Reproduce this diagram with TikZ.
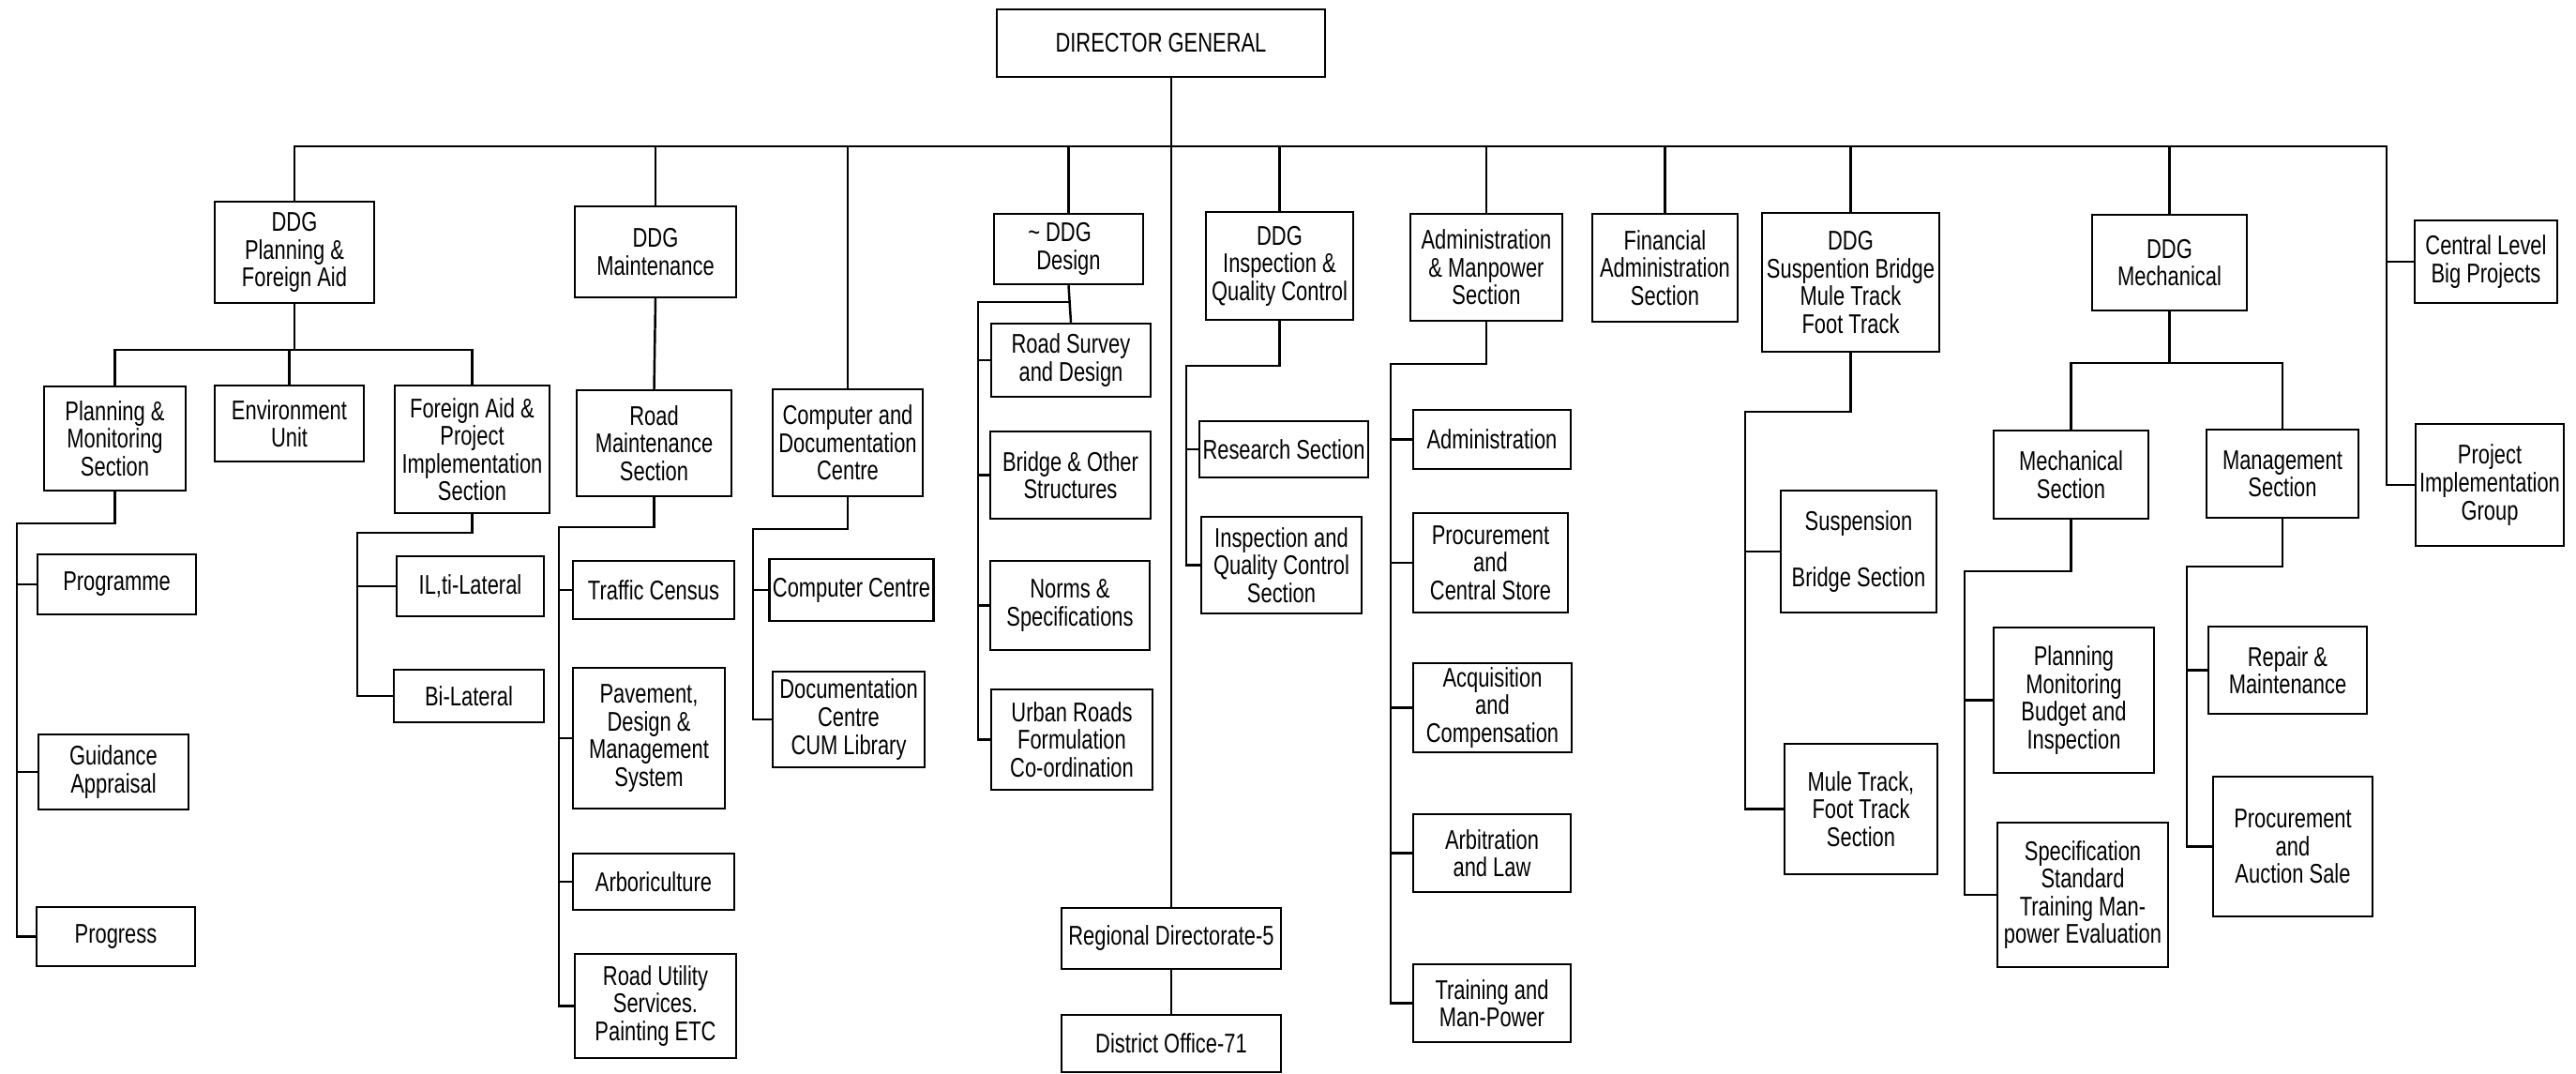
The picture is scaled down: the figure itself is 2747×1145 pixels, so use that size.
\documentclass[tikz,border=0pt]{standalone}
\usepackage{fontspec}
\setmainfont[FakeStretch=0.76]{Liberation Sans}
\newfontfamily\orgfam[FakeStretch=0.76]{Liberation Sans}
\newcommand\orgfont{\orgfam\fontsize{8.2}{8.4}\selectfont}
\tikzset{
  orgbox/.style={draw, line width=0.7pt, align=center, inner sep=1pt, font=\orgfont},
  link/.style={line width=0.7pt}
}
\newcommand\mkbox[6]{\node[orgbox, minimum width={(#4-#2)*0.01cm}, minimum height={(#5-#3)*0.01cm}] (#1) at ({(#2+#4)/2},{(#3+#5)/2}) {#6};}
\begin{document}
\begin{tikzpicture}[x=0.01cm, y=-0.01cm]
\useasboundingbox[fill=white] (0,0) rectangle (2747,1145);
% top level
\mkbox{dg}{1063}{10}{1413}{82}{DIRECTOR GENERAL}
\mkbox{ddgpf}{229}{215}{399}{323}{DDG\\Planning \&\\Foreign Aid}
\mkbox{ddgm}{613}{220}{785}{317}{DDG\\Maintenance}
\mkbox{cdc}{824}{415}{984}{529}{Computer and\\Documentation\\Centre}
\mkbox{ddgd}{1060}{228}{1219}{303}{\llap{\textasciitilde\ }DDG\\Design}
\mkbox{ddgi}{1286}{226}{1443}{341}{DDG\\Inspection \&\\Quality Control}
\mkbox{adm}{1504}{228}{1666}{342}{Administration\\\& Manpower\\Section}
\mkbox{fin}{1698}{228}{1853}{343}{Financial\\Administration\\Section}
\mkbox{ddgs}{1879}{227}{2068}{375}{DDG\\Suspention Bridge\\Mule Track\\Foot Track}
\mkbox{ddgmech}{2231}{229}{2396}{331}{DDG\\Mechanical}
\mkbox{clbp}{2575}{235}{2727}{323}{Central Level\\Big Projects}
% planning branch
\mkbox{pms}{47}{412}{198}{523}{Planning \&\\Monitoring\\Section}
\mkbox{env}{229}{411}{388}{492}{Environment\\Unit}
\mkbox{fapi}{421}{411}{586}{547}{Foreign Aid \&\\Project\\Implementation\\Section}
\mkbox{prog}{40}{591}{209}{655}{Programme}
\mkbox{guid}{41}{783}{201}{863}{Guidance\\Appraisal}
\mkbox{progr}{39}{967}{208}{1030}{Progress}
\mkbox{ilt}{423}{593}{580}{657}{IL,ti-Lateral}
\mkbox{bil}{420}{714}{580}{770}{Bi-Lateral}
% maintenance branch
\mkbox{rms}{615}{416}{780}{529}{Road\\Maintenance\\Section}
\mkbox{tc}{611}{598}{783}{660}{Traffic Census}
\mkbox{pav}{611}{712}{773}{862}{Pavement,\\Design \&\\Management\\System}
\mkbox{arb}{611}{910}{783}{970}{Arboriculture}
\mkbox{rus}{613}{1017}{785}{1128}{Road Utility\\Services.\\Painting ETC}
% computer
\mkbox{cc}{821}{596}{995}{662}{Computer Centre}
\mkbox{doc}{824}{716}{986}{818}{Documentation\\Centre\\CUM Library}
% design
\mkbox{rsd}{1057}{345}{1227}{423}{Road Survey\\and Design}
\mkbox{bos}{1056}{460}{1227}{553}{Bridge \& Other\\Structures}
\mkbox{nos}{1056}{598}{1226}{693}{Norms \&\\Specifications}
\mkbox{urf}{1057}{735}{1229}{842}{Urban Roads\\Formulation\\Co-ordination}
% inspection
\mkbox{res}{1281}{449}{1457}{509}{Research Section}
\mkbox{iqc}{1281}{551}{1452}{654}{Inspection and\\Quality Control\\Section}
% administration
\mkbox{admn}{1507}{437}{1675}{500}{Administration}
\mkbox{pcs}{1507}{547}{1672}{653}{Procurement\\and\\Central Store}
\mkbox{acq}{1507}{707}{1676}{802}{Acquisition\\and\\Compensation}
\mkbox{arl}{1507}{868}{1675}{951}{Arbitration\\and Law}
\mkbox{tmp}{1507}{1028}{1675}{1111}{Training and\\Man-Power}
% regional
\mkbox{rd}{1132}{968}{1366}{1033}{Regional Directorate-5}
\mkbox{dof}{1132}{1082}{1366}{1143}{District Office-71}
% suspension
\mkbox{sbs}{1899}{523}{2065}{653}{Suspension\\[8.4pt]Bridge Section}
\mkbox{mtf}{1903}{793}{2066}{932}{Mule Track,\\Foot Track\\Section}
% mechanical
\mkbox{mecs}{2126}{459}{2291}{553}{Mechanical\\Section}
\mkbox{mans}{2353}{458}{2515}{552}{Management\\Section}
\mkbox{pmbi}{2126}{669}{2297}{824}{Planning\\Monitoring\\Budget and\\Inspection}
\mkbox{sst}{2130}{877}{2312}{1031}{Specification\\Standard\\Training Man-\\power Evaluation}
\mkbox{rep}{2355}{668}{2524}{761}{Repair \&\\Maintenance}
\mkbox{pas}{2360}{828}{2530}{977}{Procurement\\and\\Auction Sale}
\mkbox{pig}{2576}{452}{2734}{582}{Project\\Implementation\\Group}

% junction coordinates
\coordinate (rt) at (2545,156);
\coordinate (pfj) at (314,373);
\coordinate (pmv) at (18,558);
\coordinate (faj) at (381,568);
\coordinate (rmj) at (596,562);
\coordinate (cdj) at (803,564);
\coordinate (ddj) at (1043,322);
\coordinate (inj) at (1265,390);
\coordinate (adj) at (1483,388);
\coordinate (ssj) at (1861,439);
\coordinate (mcj) at (2313,387);
\coordinate (msj) at (2095,609);
\coordinate (mnj) at (2332,604);

% bus
\draw[link] (ddgpf.north) |- (rt) |- (pig.west);
\draw[link] (clbp.west) -- (clbp.west -| rt);
\foreach \n in {ddgm,cdc,ddgd,ddgi,adm,fin,ddgs,ddgmech}
  \draw[link] (\n.north) -- (\n.north |- rt);
\draw[link] (dg.south -| rd.north) -- (rd.north);
\draw[link] (rd.south) -- (dof.north);
\draw[link] (ddgm.south) -- (rms.north);

% planning
\draw[link] (ddgpf.south) -- (ddgpf.south |- pfj);
\draw[link] (pms.north) |- (pfj) -| (fapi.north);
\draw[link] (env.north) -- (env.north |- pfj);
\draw[link] (pms.south) |- (pmv) |- (progr.west);
\draw[link] (pmv |- prog.west) -- (prog.west);
\draw[link] (pmv |- guid.west) -- (guid.west);
\draw[link] (fapi.south) |- (faj) |- (bil.west);
\draw[link] (faj |- ilt.west) -- (ilt.west);
% maintenance
\draw[link] (rms.south) |- (rmj) |- (rus.west);
\foreach \n in {tc,pav,arb} \draw[link] (rmj |- \n.west) -- (\n.west);
% computer
\draw[link] (cdc.south) |- (cdj) |- (doc.west);
\draw[link] (cdj |- cc.west) -- (cc.west);
% design
\draw[link] (ddgd.south) -- (rsd.north);
\draw[link] (ddgd.south |- ddj) -- (ddj) |- (urf.west);
\foreach \n in {rsd,bos,nos} \draw[link] (ddj |- \n.west) -- (\n.west);
% inspection
\draw[link] (ddgi.south) |- (inj) |- (iqc.west);
\draw[link] (inj |- res.west) -- (res.west);
% administration
\draw[link] (adm.south) |- (adj) |- (tmp.west);
\foreach \n in {admn,pcs,acq,arl} \draw[link] (adj |- \n.west) -- (\n.west);
% suspension
\draw[link] (ddgs.south) |- (ssj) |- (mtf.west);
\draw[link] (ssj |- sbs.west) -- (sbs.west);
% mechanical
\draw[link] (ddgmech.south) -- (ddgmech.south |- mcj);
\draw[link] (mecs.north) |- (mcj) -| (mans.north);
\draw[link] (mecs.south) |- (msj) |- (sst.west);
\draw[link] (msj |- pmbi.west) -- (pmbi.west);
\draw[link] (mans.south) |- (mnj) |- (pas.west);
\draw[link] (mnj |- rep.west) -- (rep.west);
\end{tikzpicture}
\end{document}
